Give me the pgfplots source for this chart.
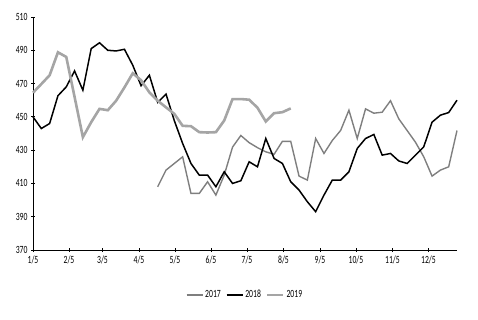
\documentclass[border=0pt]{standalone}
\usepackage{fontspec}
\setmainfont{Carlito}
\usepackage{graphicx}
\usepackage{pgfplots}
\pgfplotsset{compat=1.18}
\newcommand\nc[1]{\scalebox{0.7}[1]{#1}}
\definecolor{c17}{HTML}{7F7F7F}
\definecolor{c18}{HTML}{000000}
\definecolor{c19}{HTML}{A5A5A5}
\begin{document}
\begin{tikzpicture}[x=1pt,y=1pt]
\begin{axis}[
  scale only axis, width=424pt, height=233pt,
  at={(0,0)}, anchor=origin,
  xmin=0, xmax=51, ymin=370, ymax=510,
  axis lines=left, axis line style={line width=1pt,-},
  xtick={0,4.33,8.36,12.75,17.08,21.41,25.74,30.13,34.52,38.85,43.24,47.57},
  xticklabels={\nc{1/5},\nc{2/5},\nc{3/5},\nc{4/5},\nc{5/5},\nc{6/5},\nc{7/5},\nc{8/5},\nc{9/5},\nc{10/5},\nc{11/5},\nc{12/5}},
  ytick={370,390,...,510},
  yticklabel={\nc{\pgfmathprintnumber{\tick}}},
  tick style={line width=0.8pt, black},
  major tick length=4pt,
  tick label style={font=\fontsize{11}{13}\selectfont},
  /pgf/number format/assume math mode=true,
  legend style={draw=none, at={(0.5,-0.155)}, anchor=north, legend columns=3,
    font=\fontsize{11}{13}\selectfont, /tikz/every even column/.append style={column sep=3pt}},
  legend image code/.code={\draw[#1] (0pt,0pt) -- (16pt,0pt);},
  clip=false,
]
\addplot[c17, line width=1.4pt] coordinates {
(15,408)(16,418)(17,422)(18,426)(19,404)(20,404)(21,411)(22,403)(23,415)(24,431.8)
(25,438.8)(26,434.5)(27,431.5)(28,429)(29,427.5)(30,435.3)(31,435.3)(32,414.4)(33,412)(34,437)
(35,428)(36,435.8)(37,441.8)(38,454)(39,437)(40,454.8)(41,452.2)(42,452.8)(43,459.7)(44,448.8)
(45,441.8)(46,434.8)(47,426)(48,414.4)(49,418)(50,420)(51,441.8)};
\addlegendentry{\nc{2017}}
\addplot[c18, line width=1.5pt] coordinates {
(0,450)(1,443)(2,446)(3,462.7)(4,468)(5,477.6)(6,466)(7,491)(8,494.5)(9,490)
(10,489.6)(11,490.6)(12,481)(13,468.7)(14,475)(15,458.7)(16,463.7)(17,447.7)(18,434)(19,422)
(20,415)(21,415)(22,408)(23,417)(24,410)(25,411.6)(26,423)(27,420)(28,437)(29,425)
(30,422)(31,411)(32,406)(33,399)(34,393)(35,403)(36,412)(37,412)(38,417)(39,431)
(40,437)(41,439.4)(42,427)(43,428)(44,423.5)(45,422)(46,427)(47,432)(48,446.8)(49,451)
(50,452.6)(51,460)};
\addlegendentry{\nc{2018}}
\addplot[c19, line width=2.6pt] coordinates {
(0,464.5)(1,469.7)(2,475)(3,488.8)(4,486)(5,462)(6,437.8)(7,446.8)(8,454.8)(9,454)
(10,459.7)(11,467.7)(12,476.2)(13,472)(14,464.7)(15,459.7)(16,455.7)(17,451.8)(18,444.6)(19,444.4)
(20,440.8)(21,440.6)(22,440.8)(23,447.8)(24,460.7)(25,460.7)(26,460.3)(27,455.5)(28,447.2)(29,452.2)
(30,452.8)(31,455.1)};
\addlegendentry{\nc{2019}}
\end{axis}
\path (-33pt,-69pt) rectangle ++(478pt,319pt);
\end{tikzpicture}
\end{document}
